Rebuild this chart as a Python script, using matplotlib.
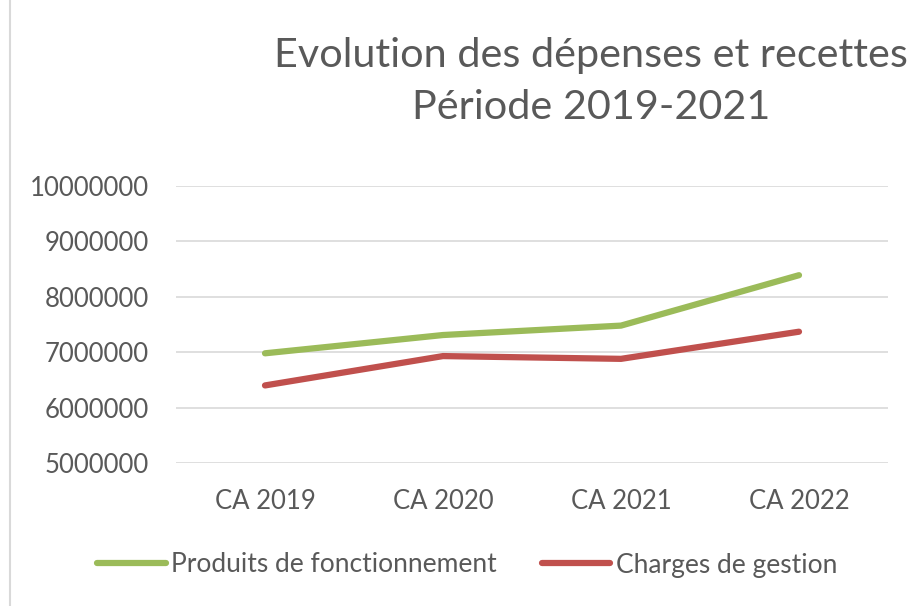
import matplotlib
matplotlib.use("Agg")
import matplotlib.pyplot as plt
from matplotlib.ticker import FixedLocator, FuncFormatter

categories = ["CA 2019", "CA 2020", "CA 2021", "CA 2022"]
produits = [6980000, 7310000, 7480000, 8390000]
charges = [6400000, 6930000, 6880000, 7370000]
series_names = ["Produits de fonctionnement", "Charges de gestion"]
yticks = [5000000, 6000000, 7000000, 8000000, 9000000, 10000000]

plt.rcParams['font.family'] = ['Lato', 'DejaVu Sans']
txt = "#595959"

fig = plt.figure(figsize=(9.13, 6.06), dpi=100)
ax = fig.add_axes([176/913, 1-463/606, (888-176)/913, (463-186)/606])

x = list(range(len(categories)))
ax.plot(x, produits, color="#9BBB59", lw=4.5, solid_capstyle="round", solid_joinstyle="round", label=series_names[0])
ax.plot(x, charges, color="#C0504D", lw=4.5, solid_capstyle="round", solid_joinstyle="round", label=series_names[1])

ax.set_xlim(-0.5, len(categories)-0.5)
ax.set_ylim(yticks[0], yticks[-1])
ax.yaxis.set_major_locator(FixedLocator(yticks))
ax.yaxis.set_major_formatter(FuncFormatter(lambda v, p: f"{int(v)}"))
ax.set_xticks(x)
ax.set_xticklabels(categories)
ax.grid(axis="y", color="#D9D9D9", lw=1.2)
ax.set_axisbelow(True)
for s in ax.spines.values():
    s.set_visible(False)
ax.tick_params(axis="both", length=0, colors=txt, labelsize=18.5)
ax.tick_params(axis="y", pad=19.5)
ax.tick_params(axis="x", pad=19)

fig.text(591/913, 1-55/606, "Evolution des dépenses et recettes", ha="center", va="center", fontsize=29.8, color=txt)
fig.text(591/913, 1-108/606, "Période 2019-2021", ha="center", va="center", fontsize=29.8, color=txt)

leg = fig.legend(loc="center", bbox_to_anchor=(467/913, 1-565/606), ncol=2, frameon=False,
                 fontsize=19, labelcolor=txt, handlelength=2.6, handletextpad=0.2, columnspacing=1.7)

# chart border left edge
fig.add_artist(plt.Line2D([10/913, 10/913], [0, 1], color="#D9D9D9", lw=1.5, transform=fig.transFigure))

fig.savefig("out.png", dpi=100, facecolor="white")
